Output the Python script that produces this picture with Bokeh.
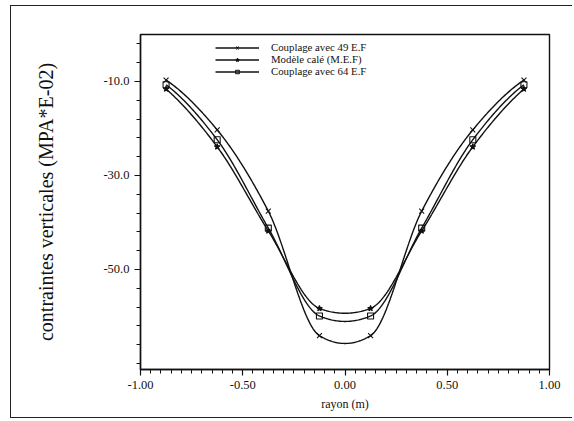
import numpy as np
from bokeh.plotting import figure
from bokeh.models import FixedTicker, NumeralTickFormatter, Legend, LegendItem, Range1d
from bokeh.embed import file_html
from bokeh.resources import INLINE

# ---- data ----
rayon = [-0.875, -0.625, -0.375, -0.125, 0.125, 0.375, 0.625, 0.875]
couplage_49 = [-9.7, -20.3, -37.6, -64.1, -64.1, -37.6, -20.3, -9.7]
modele_cale = [-11.6, -23.9, -41.8, -58.3, -58.3, -41.8, -23.9, -11.6]
couplage_64 = [-10.7, -22.4, -41.2, -59.9, -59.9, -41.2, -22.4, -10.7]

labels = ["Couplage avec 49 E.F", "Modèle calé (M.E.F)", "Couplage avec 64 E.F"]
x_ticks = [-1.0, -0.5, 0.0, 0.5, 1.0]
y_ticks = [-10.0, -30.0, -50.0]


def smooth_curve(x, y, n=300):
    """Piecewise cubic Hermite curve through the points (shape-preserving slopes)."""
    x = np.asarray(x, float)
    y = np.asarray(y, float)
    h = np.diff(x)
    d = np.diff(y) / h
    k = len(x)
    m = np.zeros(k)
    for i in range(1, k - 1):
        if d[i - 1] * d[i] > 0:
            m[i] = 2.0 / (1.0 / d[i - 1] + 1.0 / d[i])
        else:
            m[i] = 0.25 * (d[i - 1] + d[i])
    m[0] = ((2 * h[0] + h[1]) * d[0] - h[0] * d[1]) / (h[0] + h[1])
    m[-1] = ((2 * h[-1] + h[-2]) * d[-1] - h[-1] * d[-2]) / (h[-1] + h[-2])
    xs = np.linspace(x[0], x[-1], n)
    idx = np.clip(np.searchsorted(x, xs) - 1, 0, k - 2)
    hh = h[idx]
    t = (xs - x[idx]) / hh
    h00 = 2 * t ** 3 - 3 * t ** 2 + 1
    h10 = t ** 3 - 2 * t ** 2 + t
    h01 = -2 * t ** 3 + 3 * t ** 2
    h11 = t ** 3 - t ** 2
    ys = h00 * y[idx] + h10 * hh * m[idx] + h01 * y[idx + 1] + h11 * hh * m[idx + 1]
    return xs, ys


FONT = "Liberation Serif"

p = figure(width=562, height=413, output_backend="svg", toolbar_location=None,
           x_range=Range1d(-1.0, 1.0), y_range=Range1d(-71.3, 0.0),
           min_border_left=129, min_border_right=24, min_border_top=28,
           min_border_bottom=50)
p.styles = {"margin-left": "10px", "margin-top": "5px",
            "border-left": "1.5px solid #222", "border-top": "1.5px solid #222",
            "border-bottom": "1.5px solid #222"}

p.xgrid.visible = False
p.ygrid.visible = False
p.outline_line_color = "#111"
p.outline_line_width = 1.4

p.xaxis.ticker = FixedTicker(ticks=x_ticks,
                             minor_ticks=list(np.round(np.arange(-1.0, 1.0001, 0.05), 3)))
p.xaxis.formatter = NumeralTickFormatter(format="0.00")
p.yaxis.ticker = FixedTicker(ticks=y_ticks, minor_ticks=list(range(-70, 1, 4)))
p.yaxis.formatter = NumeralTickFormatter(format="0.0")

for ax in (p.xaxis[0], p.yaxis[0]):
    ax.axis_line_color = "#111"
    ax.axis_line_width = 1.4
    ax.major_tick_line_color = "#111"
    ax.minor_tick_line_color = "#111"
    ax.major_tick_line_width = 1.2
    ax.minor_tick_line_width = 1.0
    ax.major_tick_out = 6
    ax.major_tick_in = 0
    ax.minor_tick_out = 4
    ax.minor_tick_in = 0
    ax.major_label_text_font = FONT
    ax.major_label_text_font_size = "12.5px"
    ax.major_label_text_color = "#111"
    ax.axis_label_text_font = FONT
    ax.axis_label_text_font_style = "normal"
    ax.axis_label_text_color = "#111"

p.xaxis.axis_label = "rayon (m)"
p.xaxis.axis_label_text_font_size = "12px"
p.xaxis.axis_label_standoff = 5
p.xaxis.major_label_standoff = 5

p.yaxis.axis_label = "contraintes verticales (MPA*E-02)"
p.yaxis.axis_label_text_font_size = "20px"
p.yaxis.axis_label_standoff = 43
p.yaxis.major_label_standoff = 5

series = [couplage_49, modele_cale, couplage_64]
markers = ["x", "star", "square"]
fills = [None, "#111", None]
sizes = [7, 6, 6]
items = []
for lab, ys, mk, fc, sz in zip(labels, series, markers, fills, sizes):
    sx, sy = smooth_curve(rayon, ys)
    r_line = p.line(sx, sy, line_color="#111", line_width=1.4)
    r_mark = p.scatter(rayon, ys, marker=mk, size=sz, line_color="#111",
                       line_width=1.1, fill_color=fc if fc else "white",
                       fill_alpha=1.0 if fc else 0.0)
    items.append(LegendItem(label=lab, renderers=[r_line, r_mark]))

legend = Legend(items=items, location=(75, 292), orientation="vertical",
                label_text_font=FONT, label_text_font_size="10.8px",
                label_text_line_height=0.8,
                label_text_color="#111", glyph_width=44, glyph_height=9,
                label_height=9, spacing=0, padding=2, margin=0,
                border_line_color=None, background_fill_alpha=0.0,
                label_standoff=12)
p.add_layout(legend, "center")

open("out.html", "w").write(file_html(p, INLINE))
